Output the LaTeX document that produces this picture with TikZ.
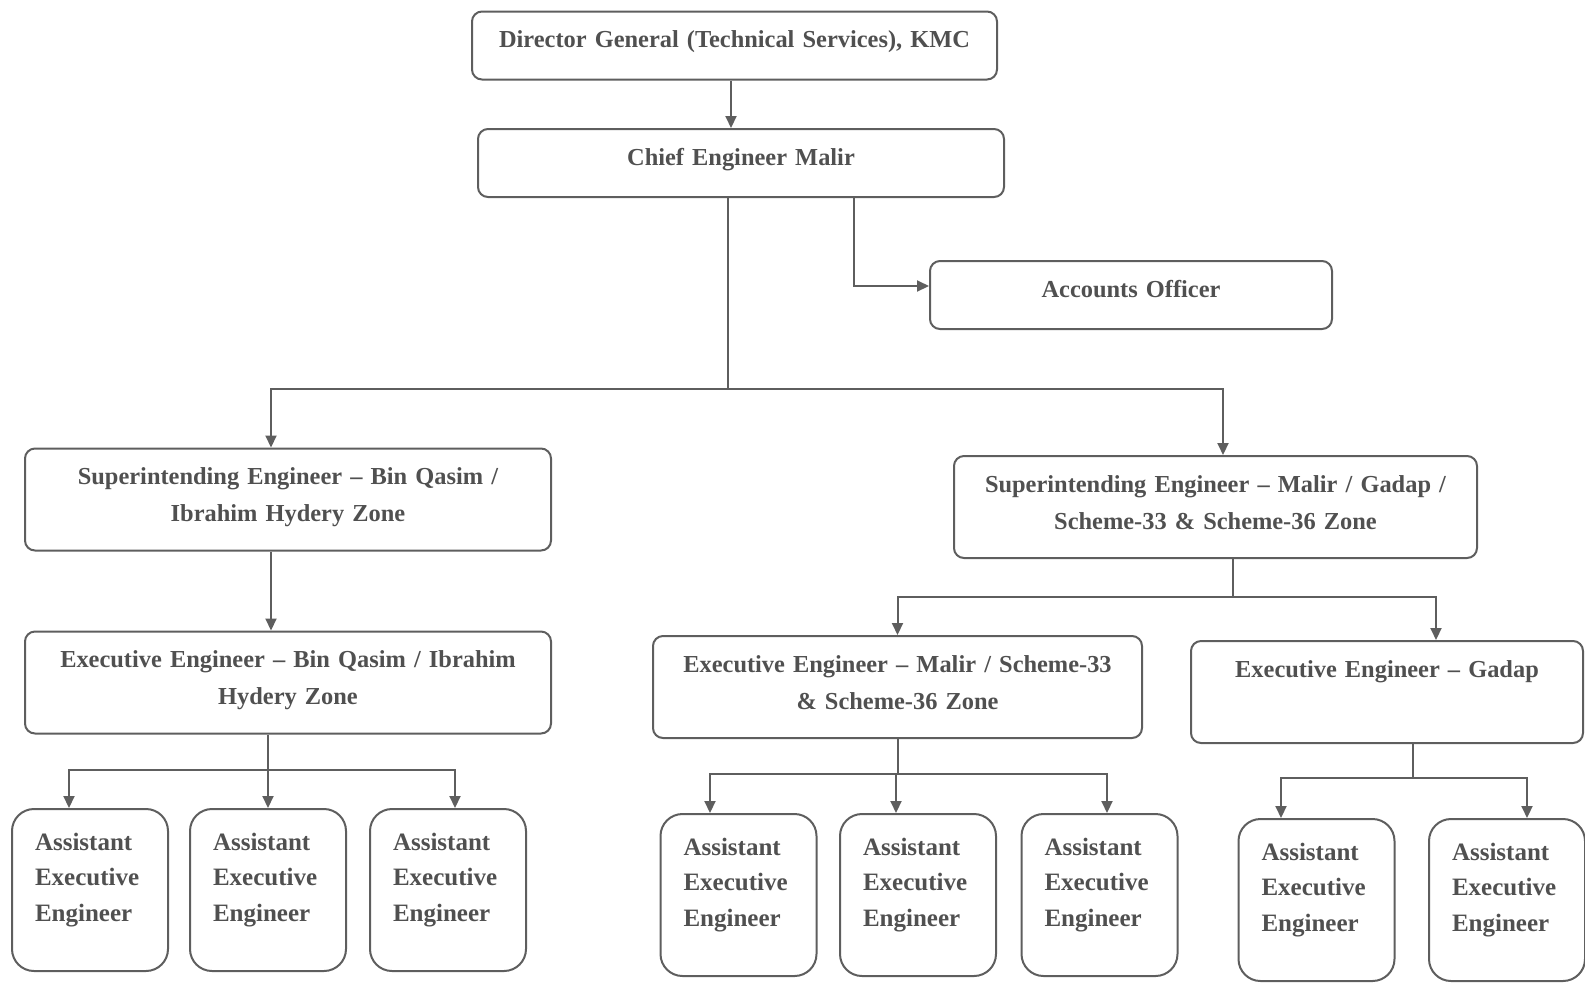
\documentclass[tikz,border=0pt]{standalone}
\usepackage{fontspec}
\setmainfont{Liberation Serif}
\usepackage{xcolor}
\usetikzlibrary{arrows.meta,positioning,calc}

\definecolor{linegray}{HTML}{5E5E5E}
\definecolor{textgray}{HTML}{505050}

\begin{document}
\begin{tikzpicture}[
  x=0.5pt, y=-0.5pt,
  box/.style={rectangle, draw=linegray, line width=1pt, rounded corners=5pt, text=textgray, align=center,
    font=\fontsize{12.2}{18.5}\selectfont\bfseries, inner xsep=4pt, inner ysep=9pt, text height=9pt},
  onerow/.style={box, text depth=7pt},
  tworow/.style={box, text depth=24pt},
  aee/.style={box, align=left, rounded corners=11pt, text width=55pt, inner xsep=11.5pt, inner ysep=11.5pt,
    text depth=49pt, font=\fontsize{12.5}{17.75}\selectfont\bfseries},
  arr/.style={-{Triangle[length=6pt, width=5.5pt]}, draw=linegray, line width=1pt},
  lnk/.style={draw=linegray, line width=1pt}
]
\useasboundingbox (0,0) rectangle (1585,982);

% top of the chart
\node[onerow, text width=254.5pt] (dg) at (734.5,45.5) {Director General (Technical Services), KMC};
\node[onerow, text width=255pt] (ce) at (741,163) {Chief Engineer Malir};
\node[onerow, text width=193pt] (ao) at (1131,295) {Accounts Officer};

% zones
\node[tworow, text width=255pt] (se1) at (288,499.5) {Superintending Engineer -- Bin Qasim /\\Ibrahim Hydery Zone};
\node[tworow, text width=253.5pt] (se2) at (1215.5,507) {Superintending Engineer -- Malir / Gadap /\\Scheme-33 \& Scheme-36 Zone};

\node[tworow, text width=255pt] (ee1) at (288,682.5) {Executive Engineer -- Bin Qasim / Ibrahim\\Hydery Zone};
\node[tworow, text width=236.5pt] (ee2) at (897.5,687) {Executive Engineer -- Malir / Scheme-33\\\& Scheme-36 Zone};
\node[tworow, text width=188pt] (ee3) at (1387,692) {Executive Engineer -- Gadap};

% assistant executive engineers
\foreach \n/\x/\y in {aee1/90/890, aee2/268/890, aee3/448/890, aee4/738.5/895, aee5/918/895, aee6/1099.5/895, aee7/1316.5/900, aee8/1507/900}
  \node[aee] (\n) at (\x,\y) {Assistant\\Executive\\Engineer};

\coordinate (t1) at (728,389);
\coordinate (t2) at (268,770);
\coordinate (t3) at (1233,597);
\coordinate (t4) at (897.5,774);
\coordinate (t5) at (1413,778);

\draw[arr] (dg.south -| 731,0) -- (ce.north -| 731,0);
\draw[arr] ([xshift=56.5pt]ce.south) |- ([yshift=4.5pt]ao.west);

\draw[lnk] (ce.south -| t1) -- (t1);
\draw[arr] (t1) -| ([xshift=-8.5pt]se1.north);
\draw[arr] (t1) -| ([xshift=3.75pt]se2.north);

\draw[arr] ([xshift=-8.5pt]se1.south) -- ([xshift=-8.5pt]ee1.north);
\draw[lnk] (ee1.south -| t2) -- (t2);
\foreach \a/\s in {aee1/-10.5, aee2/0, aee3/3.5}
  \draw[arr] (t2) -| ([xshift=\s pt]\a.north);

\draw[lnk] (se2.south -| t3) -- (t3);
\draw[arr] (t3) -| (ee2.north);
\draw[arr] (t3) -| ([xshift=24.5pt]ee3.north);

\draw[lnk] (ee2.south) -- (t4);
\foreach \a/\s in {aee4/-14.25, aee5/-11, aee6/3.75}
  \draw[arr] (t4) -| ([xshift=\s pt]\a.north);

\draw[lnk] (ee3.south -| t5) -- (t5);
\foreach \a/\s in {aee7/-17.75, aee8/10}
  \draw[arr] (t5) -| ([xshift=\s pt]\a.north);

\end{tikzpicture}
\end{document}
